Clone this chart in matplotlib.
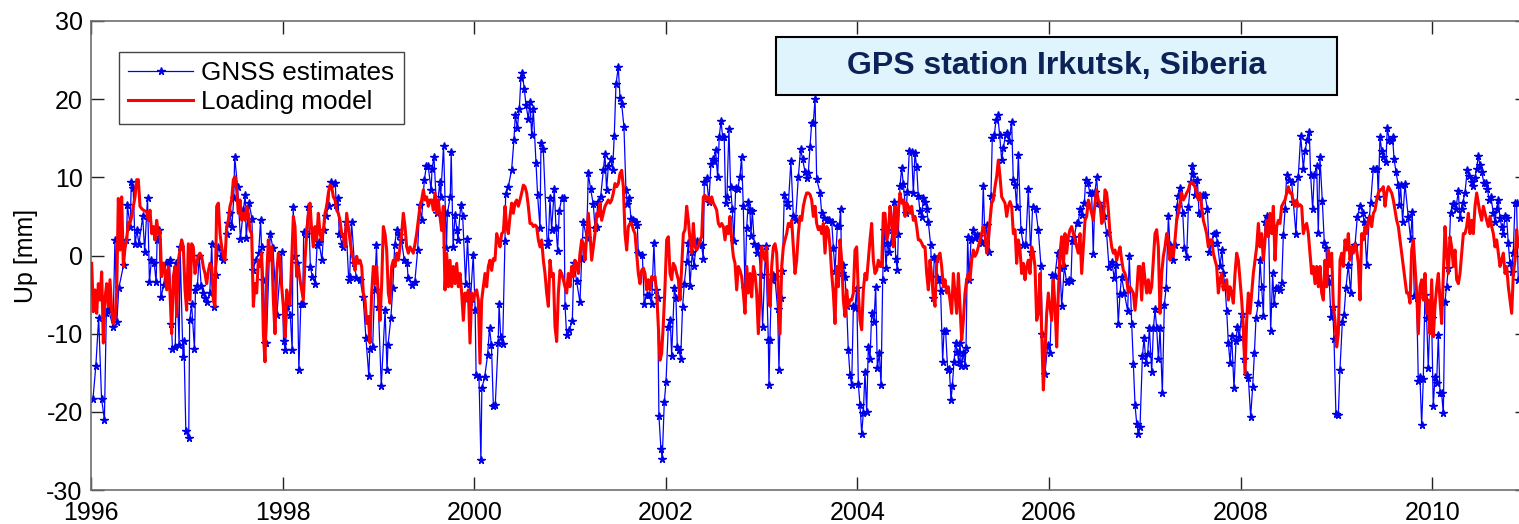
import numpy as np
import matplotlib
matplotlib.use("Agg")
import matplotlib.pyplot as plt
from matplotlib.patches import Rectangle

plt.rcParams['font.family'] = ['Liberation Sans', 'DejaVu Sans']
plt.rcParams['axes.unicode_minus'] = False

# ---------------- GNSS weekly estimates (decimal year, Up in mm) ----------------
gnss_t_a = [1996.02, 1996.05, 1996.08, 1996.11, 1996.14, 1996.16, 1996.18, 1996.23, 1996.25, 1996.27,
            1996.29, 1996.34, 1996.37, 1996.38, 1996.41, 1996.42, 1996.44, 1996.46, 1996.48, 1996.50,
            1996.54, 1996.56, 1996.59, 1996.61, 1996.63, 1996.66, 1996.68, 1996.69, 1996.71, 1996.73,
            1996.76, 1996.78, 1996.81, 1996.82, 1996.84, 1996.85, 1996.88, 1996.89, 1996.92, 1996.93,
            1996.96, 1996.97, 1996.99, 1997.02, 1997.03, 1997.05, 1997.08, 1997.09, 1997.11, 1997.13,
            1997.15, 1997.17, 1997.19, 1997.21, 1997.24, 1997.26, 1997.28, 1997.30, 1997.33, 1997.36,
            1997.38, 1997.42, 1997.43, 1997.45, 1997.47, 1997.49, 1997.50, 1997.53, 1997.56, 1997.59,
            1997.61, 1997.62, 1997.65, 1997.68, 1997.69, 1997.72, 1997.75, 1997.77, 1997.78, 1997.80,
            1997.82, 1997.83, 1997.87, 1997.90, 1997.94, 1997.99, 1998.01, 1998.03, 1998.05, 1998.08,
            1998.10, 1998.11, 1998.13, 1998.15, 1998.17, 1998.19, 1998.21, 1998.22, 1998.24, 1998.27,
            1998.29, 1998.31, 1998.34, 1998.36, 1998.38, 1998.41, 1998.43, 1998.45, 1998.48, 1998.49,
            1998.51, 1998.55, 1998.56, 1998.58, 1998.59, 1998.62, 1998.63, 1998.66, 1998.69, 1998.70,
            1998.72, 1998.75, 1998.77, 1998.81, 1998.84, 1998.87, 1998.90, 1998.91, 1998.94, 1998.96,
            1998.98, 1999.00, 1999.03, 1999.07, 1999.09, 1999.10, 1999.13, 1999.15, 1999.17, 1999.19,
            1999.21, 1999.24, 1999.27, 1999.30, 1999.31, 1999.35, 1999.38, 1999.41, 1999.43, 1999.45,
            1999.48, 1999.50, 1999.52, 1999.55, 1999.56, 1999.58, 1999.61, 1999.64, 1999.65, 1999.68,
            1999.71, 1999.72, 1999.75, 1999.76, 1999.78, 1999.80, 1999.82, 1999.83, 1999.86, 1999.88,
            1999.91, 1999.93, 1999.96, 1999.99, 2000.01, 2000.02, 2000.05, 2000.07, 2000.08, 2000.11,
            2000.14, 2000.16, 2000.18, 2000.20, 2000.22, 2000.25, 2000.26]
gnss_v_a = [-18.4, -14.2, -8.0, -18.3, -21.0, -7.4, -6.8, -9.1, 2.0, -8.5,
            -4.2, -1.2, 2.0, 6.4, 3.7, 9.4, 8.6, 1.5, 3.2, 1.5,
            5.0, 0.5, 7.4, -3.4, -0.6, -1.0, -3.4, 2.0, 3.2, -5.3,
            -3.8, -1.0, -1.0, -0.6, -8.7, -11.9, -11.7, -1.0, -11.5, 1.1,
            -13.0, -11.0, -22.5, -23.4, -8.3, -6.2, -12.0, -4.4, -3.9, -0.1,
            -3.9, -4.8, -5.5, -5.9, -4.8, 1.5, -6.6, -2.5, 1.1, -0.1,
            -0.6, 2.8, 4.1, 5.4, 3.7, 7.3, 12.6, 8.8, 2.1, 5.8,
            7.7, 2.2, 6.7, 4.7, -1.9, -0.6, 0.3, 4.5, 1.1, -3.1,
            -11.2, -11.2, 2.8, 0.9, -7.6, 0.5, -10.9, -12.1, -6.5, -7.6,
            -12.1, 6.2, -0.1, -1.0, -14.7, -6.2, -6.2, 3.0, 2.8, 6.2,
            -1.5, -2.7, -3.6, 1.3, 1.7, -0.6, 3.2, 5.0, 6.3, 8.8,
            9.4, 9.3, 6.4, 7.3, 2.8, 1.5, 1.1, 4.3, -3.1, -2.7,
            4.3, -1.0, -2.9, -3.1, -5.3, -10.6, -15.4, -11.9, -11.7, -4.4,
            1.3, -6.6, -16.7, -7.0, -14.7, -11.5, -8.0, -4.2, 1.3, 3.2,
            2.6, 2.0, -0.6, -1.0, -2.9, -3.8, -3.4, 0.7, 6.4, 4.5,
            9.7, 11.4, 11.4, 8.4, 11.1, 12.6, 5.4, 9.4, 7.5, 14.0,
            0.9, 5.4, 7.5, 13.2, 1.1, 5.2, 3.2, 2.0, 6.5, 5.0,
            -3.6, 2.1, -5.9, 0.1, -7.0, -15.3, -15.5, -26.2, -17.0, -15.5,
            -12.7, -9.3, -11.5, -19.3, -19.1, -11.2, -6.2]

gnss_t_b = [2000.276, 2000.297, 2000.321, 2000.328, 2000.356, 2000.391, 2000.415, 2000.429, 2000.450, 2000.471,
            2000.488, 2000.502, 2000.523, 2000.540, 2000.565, 2000.582, 2000.600, 2000.617, 2000.645, 2000.662,
            2000.687, 2000.697, 2000.721, 2000.763, 2000.774, 2000.791, 2000.808, 2000.836, 2000.854, 2000.871,
            2000.888, 2000.913, 2000.937, 2000.948, 2000.965, 2000.993, 2001.024, 2001.041, 2001.069, 2001.104,
            2001.121, 2001.139, 2001.174, 2001.191, 2001.215, 2001.243, 2001.261, 2001.278, 2001.288, 2001.320,
            2001.348, 2001.365, 2001.382, 2001.400, 2001.424, 2001.445, 2001.462, 2001.480, 2001.504, 2001.522,
            2001.539, 2001.563, 2001.584, 2001.598, 2001.619, 2001.636, 2001.661, 2001.685, 2001.703]
gnss_v_b = [-10.4, -11.3, 1.8, 7.9, 8.8, 11.0, 14.8, 18.0, 16.3, 18.8,
            22.7, 23.3, 21.3, 19.3, 17.5, 19.7, 15.4, 18.7, 11.8, 7.7,
            3.5, 14.4, 13.6, 1.3, 1.8, 7.3, 3.3, 8.5, 3.5, 0.6,
            5.7, 7.3, 7.4, -6.4, -10.2, -9.5, -8.4, -0.9, -3.3, -6.0,
            -0.5, 4.3, 2.2, 10.5, 8.5, 6.6, 3.5, 3.7, 6.9, 7.5,
            11.0, 13.0, 8.4, 11.4, 12.3, 11.0, 15.3, 21.9, 24.1, 20.2,
            19.4, 16.5, 8.4, 6.6, 7.4, 4.7, 4.5, 4.3, 3.9]

gnss_t_c = [2001.713, 2001.755, 2001.775, 2001.800, 2001.824, 2001.852, 2001.876, 2001.894, 2001.915, 2001.928,
            2001.949, 2001.963, 2001.984, 2002.002, 2002.026, 2002.047, 2002.061, 2002.089, 2002.106, 2002.120,
            2002.137, 2002.155, 2002.175, 2002.193, 2002.217, 2002.235, 2002.252, 2002.276, 2002.294, 2002.322,
            2002.346, 2002.374, 2002.391, 2002.402, 2002.426, 2002.450, 2002.471, 2002.489, 2002.503, 2002.520,
            2002.541, 2002.558, 2002.576, 2002.593, 2002.610, 2002.624, 2002.638, 2002.659, 2002.676, 2002.694,
            2002.711, 2002.729, 2002.750, 2002.774, 2002.791, 2002.809, 2002.826, 2002.844, 2002.861, 2002.878,
            2002.889, 2002.903, 2002.924, 2002.948, 2002.965, 2002.993, 2003.010, 2003.042, 2003.070, 2003.077,
            2003.087, 2003.104, 2003.122, 2003.139, 2003.167, 2003.181, 2003.198, 2003.216, 2003.237, 2003.261,
            2003.278, 2003.306, 2003.331, 2003.355, 2003.383, 2003.407]
gnss_v_c = [0.3, 0.1, -6.2, -5.0, -5.0, -6.2, 1.6, -4.4, -5.5, -20.5,
            -24.7, -26.0, -18.8, -16.2, -9.1, -8.3, -12.8, -4.2, -5.4, -11.7,
            -12.1, -13.2, -6.6, -3.6, -0.8, 1.6, -3.9, 0.4, -1.3, 1.8,
            1.5, 1.3, -0.4, 9.4, 9.9, 6.8, 11.7, 12.3, 12.1, 13.5,
            10.0, 15.2, 17.2, 15.2, 15.2, 6.7, 7.5, 16.2, 8.8, 5.9,
            1.8, 8.6, 8.5, 10.1, 12.6, 6.3, -4.2, 3.5, 6.8, 5.8,
            2.5, 5.7, 1.5, 0.3, 1.2, -2.5, -9.1, 1.2, -10.8, -16.6,
            -10.8, -3.1, -2.5, -2.8, -6.8, -14.6, -5.4, -2.0, 7.7, 6.9,
            6.3, 12.1, 5.1, 4.5, 10.0, 13.6]

gnss_t_d = [2003.429, 2003.453, 2003.471, 2003.488, 2003.505, 2003.523, 2003.540, 2003.558, 2003.575, 2003.610,
            2003.627, 2003.652, 2003.679, 2003.707, 2003.732, 2003.749, 2003.766, 2003.791, 2003.812, 2003.825,
            2003.836, 2003.853, 2003.871, 2003.888, 2003.905, 2003.923, 2003.940, 2003.958, 2003.975, 2003.992,
            2004.010, 2004.027, 2004.045, 2004.062, 2004.079, 2004.097, 2004.114, 2004.132, 2004.149, 2004.173,
            2004.191, 2004.208, 2004.229, 2004.247, 2004.264, 2004.278, 2004.299, 2004.313, 2004.333, 2004.347,
            2004.365, 2004.382, 2004.400, 2004.417, 2004.427, 2004.445, 2004.462, 2004.479, 2004.507, 2004.521,
            2004.542, 2004.566, 2004.584, 2004.601, 2004.619, 2004.636, 2004.653, 2004.671, 2004.688, 2004.706,
            2004.723, 2004.740, 2004.765, 2004.786, 2004.803, 2004.820, 2004.834, 2004.855, 2004.869, 2004.890,
            2004.904, 2004.921, 2004.942, 2004.960, 2004.977, 2004.991, 2005.008, 2005.026, 2005.043, 2005.057,
            2005.071, 2005.085, 2005.106, 2005.123, 2005.134]
gnss_v_d = [12.3, 10.7, 9.9, 10.6, 13.9, 17.0, 17.0, 20.0, 9.8, 8.0,
            5.4, 4.8, 4.6, 4.5, 4.3, 1.0, -2.0, 3.8, 3.8, 6.0,
            -2.3, -1.2, -2.7, -6.5, -12.1, -15.3, -16.6, -6.5, -6.7, -4.2,
            -16.5, -19.1, -22.8, -20.1, -14.9, -20.0, -11.7, -13.2, -7.4, -8.5,
            -4.0, -14.4, -12.5, -16.6, -3.1, 3.3, -1.6, 1.6, 0.5, 1.6,
            3.3, 6.8, -0.4, -1.8, 2.8, 8.9, 11.2, 9.2, 5.4, 8.1,
            13.4, 13.3, 8.0, 13.1, 11.3, 7.6, 5.7, 4.9, 7.4, 6.9,
            6.0, 4.3, 1.3, -5.5, -0.2, -0.4, -2.7, -3.1, -4.6, -13.6,
            -9.6, -9.7, -14.6, -14.5, -18.5, -16.7, -13.6, -11.2, -12.3, -13.6,
            -11.2, -14.2, -12.5, -14.1, -11.8]

gnss_t_e = [2005.151, 2005.165, 2005.186, 2005.210, 2005.227, 2005.252, 2005.269, 2005.297, 2005.314, 2005.332,
            2005.349, 2005.373, 2005.394, 2005.408, 2005.429, 2005.447, 2005.464, 2005.485, 2005.506, 2005.523,
            2005.547, 2005.565, 2005.582, 2005.610, 2005.627, 2005.645, 2005.662, 2005.680, 2005.707, 2005.732,
            2005.756, 2005.784, 2005.808, 2005.829, 2005.861, 2005.888, 2005.916, 2005.930, 2005.958, 2005.986,
            2006.010, 2006.035, 2006.062, 2006.090, 2006.115, 2006.132, 2006.160, 2006.184, 2006.208, 2006.229,
            2006.243, 2006.264, 2006.288, 2006.306, 2006.323, 2006.341, 2006.369, 2006.382, 2006.403, 2006.428,
            2006.445, 2006.462, 2006.480, 2006.497, 2006.515, 2006.543, 2006.577, 2006.601, 2006.626, 2006.654,
            2006.682, 2006.699, 2006.723, 2006.741, 2006.758, 2006.786, 2006.821, 2006.838]
gnss_v_e = [2.4, -3.1, 2.0, 3.3, 2.2, 2.6, 2.5, 1.6, 8.9, 1.8,
            3.9, 0.4, 7.6, 15.0, 15.4, 17.3, 18.0, 15.4, 12.2, 13.8,
            15.4, 15.7, 14.6, 17.1, 9.7, 9.0, 6.2, 12.9, 3.3, 1.3,
            1.3, 8.5, 0.4, 6.2, 5.9, 3.3, -1.3, -10.0, -15.1, -11.5,
            -12.5, -2.5, -2.6, 0.3, -1.6, -6.5, -1.4, -3.4, -3.1, -3.2,
            1.8, 2.4, 4.1, 4.2, 5.9, 5.2, 6.7, 9.6, 9.3, 8.0,
            8.0, 0.2, 8.1, 10.0, 6.7, 6.2, 5.0, 2.9, -1.5, -0.8,
            -2.9, -1.2, -8.7, -4.9, -2.7, -4.8, -7.1, -0.1]

gnss_t_f = [2006.863, 2006.881, 2006.898, 2006.916, 2006.933, 2006.950, 2006.975, 2006.992, 2007.013, 2007.030,
            2007.048, 2007.072, 2007.090, 2007.107, 2007.124, 2007.142, 2007.159, 2007.183, 2007.204, 2007.222,
            2007.246, 2007.263, 2007.291, 2007.316, 2007.333, 2007.350, 2007.368, 2007.396, 2007.413, 2007.437,
            2007.455, 2007.479, 2007.493, 2007.507, 2007.524, 2007.549, 2007.566, 2007.584, 2007.604, 2007.629,
            2007.653, 2007.674, 2007.699, 2007.723, 2007.744, 2007.758, 2007.785, 2007.806, 2007.820, 2007.838,
            2007.855, 2007.872, 2007.890, 2007.907, 2007.931, 2007.952, 2007.966, 2007.987, 2008.011, 2008.036,
            2008.064, 2008.081, 2008.105, 2008.126, 2008.144, 2008.161, 2008.185, 2008.203, 2008.220, 2008.238,
            2008.255, 2008.272, 2008.290, 2008.314, 2008.335, 2008.349, 2008.370, 2008.394, 2008.411, 2008.429,
            2008.446, 2008.464]
gnss_v_f = [-8.7, -13.9, -19.1, -21.6, -22.8, -21.9, -12.9, -10.6, -13.8, -12.6,
            -9.3, -14.9, -9.3, -6.9, -9.3, -13.3, -9.3, -17.6, -6.3, -4.2,
            5.0, 1.3, -0.6, 1.4, 6.2, 7.6, 8.6, 5.5, 1.0, -0.2,
            6.2, 9.4, 11.4, 10.4, 7.8, 9.7, 5.4, 5.3, 7.8, 7.7,
            6.0, 0.4, 1.6, 2.8, 2.9, 1.6, -1.3, 0.7, -2.3, -4.0,
            -7.1, -11.2, -13.7, -10.3, -17.0, -11.0, -9.1, -10.4, -7.5, -13.3,
            -15.3, -15.7, -20.6, -16.8, -12.5, -8.0, -6.1, -0.6, -4.0, -7.7,
            4.3, 5.0, 4.8, -9.6, -2.3, -6.2, -4.2, -4.2, -4.4, -3.5,
            2.6, 5.9]

gnss_t_g = [2008.481, 2008.508, 2008.533, 2008.550, 2008.578, 2008.602, 2008.627, 2008.655, 2008.672, 2008.696,
            2008.717, 2008.731, 2008.752, 2008.769, 2008.794, 2008.811, 2008.828, 2008.853, 2008.874, 2008.891,
            2008.905, 2008.926, 2008.943, 2008.961, 2008.975, 2008.995, 2009.020, 2009.037, 2009.062, 2009.079,
            2009.100, 2009.124, 2009.149, 2009.169, 2009.194, 2009.218, 2009.246, 2009.274, 2009.291, 2009.316,
            2009.343, 2009.357, 2009.385, 2009.409, 2009.427, 2009.437, 2009.455, 2009.472, 2009.490, 2009.517,
            2009.531, 2009.552, 2009.570, 2009.587, 2009.601, 2009.622, 2009.646, 2009.657, 2009.670, 2009.691,
            2009.716, 2009.750, 2009.775, 2009.792, 2009.813, 2009.838, 2009.855, 2009.872, 2009.890, 2009.907,
            2009.924, 2009.942, 2009.959, 2009.977, 2009.994, 2010.011, 2010.029, 2010.046, 2010.064, 2010.081,
            2010.098, 2010.116, 2010.133, 2010.150, 2010.168, 2010.192, 2010.213, 2010.227, 2010.248, 2010.272,
            2010.290, 2010.307, 2010.318, 2010.342, 2010.366, 2010.387, 2010.411, 2010.429, 2010.446, 2010.463,
            2010.481, 2010.498, 2010.516, 2010.540, 2010.561, 2010.575, 2010.596, 2010.613, 2010.638, 2010.655,
            2010.672, 2010.690, 2010.707, 2010.725, 2010.742, 2010.759, 2010.777, 2010.794, 2010.811, 2010.829,
            2010.846, 2010.864, 2010.881, 2010.898]
gnss_v_g = [10.3, 9.7, 9.4, 6.9, 2.7, 10.1, 15.3, 11.1, 13.4, 14.8,
            15.8, 10.3, 5.9, 10.3, 11.4, 2.9, 12.6, 7.0, 1.6, 0.9,
            -2.6, -3.4, -7.9, -6.6, -10.7, -20.3, -20.4, -14.6, -8.5, -7.6,
            -4.1, -1.2, -4.8, 1.1, 1.3, 4.9, 6.3, 5.5, 4.3, -1.2,
            4.8, 6.7, 11.1, 11.1, 11.1, 7.5, 15.2, 13.4, 12.6, 11.9,
            16.3, 14.8, 14.6, 15.2, 12.4, 10.7, 9.0, 6.5, 9.0, 4.3,
            9.2, 4.9, 2.1, 5.6, -5.2, -5.5, -16.1, -15.5, -21.7, -15.8,
            -5.1, -8.0, -14.4, -7.6, -8.0, -19.3, -15.5, -16.3, -10.2, -17.6,
            -17.6, -20.2, -5.9, -4.0, -1.6, 5.4, 6.6, 6.6, 6.0, 8.2,
            4.8, 5.9, 6.7, 8.0, 10.9, 10.2, 9.4, 8.9, 9.9, 11.1,
            12.7, 11.6, 10.7, 9.3, 9.3, 8.5, 7.1, 7.5, 5.4, 4.3,
            6.0, 7.1, 4.8, 3.7, 2.8, 5.0, 4.8, 1.6, -1.0, -2.1,
            0.3, 6.7, 6.7, -3.1]

# ---------------- Loading model (regularly sampled series, Up in mm) ----------------
loading_start = 1996.007      # first sample (decimal year)
loading_step = 0.0173974      # sampling interval (years)

loading_a = [-1.0, -7.2, -4.4, -7.4, -3.6, -5.7, -2.1, -11.2, -5.5, -3.6,
             -6.5, -3.1, -7.0, -8.7, -8.0, -4.8, 7.3, 0.7, 7.5, -1.4,
             1.0, 2.0, 4.3, 4.1, 5.0, 6.3, 7.5, 9.7, 9.7, 6.3,
             6.0, 5.8, 5.7, 5.6, 4.5, 5.8, 2.8, 3.7, 2.0, 4.5,
             2.8, 3.2, -2.7, -1.0, -1.9, -4.4, -1.4, -4.8, -10.0, -2.7,
             -1.4, -7.8, -0.6, 0.7, 2.0, 1.1, -4.4, -7.0, 1.5, -5.7,
             1.5, 1.1, -2.3, -1.0, 0.0, 0.3, -0.1, -1.5, -2.3, -3.6,
             -2.0, -1.0, -1.4, -5.7, -6.5, 6.3, 6.7, 2.8, 1.1, -0.1,
             -0.6, 3.7, 4.5, 6.3, 7.1, 9.7, 10.1, 8.4, 5.4, 7.1,
             4.5, 5.4, 4.5, 6.3, 5.4, 3.2, 2.8, -6.5, -3.6, -4.8,
             -0.6, -1.4, 0.3, -10.0, -13.6, -2.7, 2.0, -0.6, 1.1, -5.7,
             -10.0, -2.3, 0.3, -0.6, -4.0, -6.5, -10.4, -4.4, -5.7, -6.3,
             -0.6, 5.0, 3.7, -2.7, -1.4, -3.1, -4.4, -5.7, -0.6, 2.8,
             5.4, 6.7, 3.2, 1.1, 3.7, 2.0, 5.4, 2.8, 2.0, 3.2,
             5.4, 6.3, 8.0, 9.0, 8.8, 7.5, 7.1, 5.8, 5.4, 4.5,
             2.8, 2.4, 1.1, 5.4, 3.7, 2.0, 0.3, -0.6, -1.9, -0.1,
             -1.0, -0.6, -1.4, -4.8, -5.7, -8.7, -7.8, -11.2, -4.8, -1.4,
             -3.6, -1.4, -5.3, -8.3, -3.6, 3.7, 2.8, 0.7, -4.8, -6.1,
             -1.4, -0.6, -1.4, 0.3, -0.6, 1.1, 2.8, 5.4, 3.7, 1.1,
             0.3, 1.1, 0.7, 0.3, 1.5, 2.8, 4.5, 6.3, 7.1, 8.4,
             7.1, 7.5, 6.3, 7.1, 7.1, 5.8, 8.0, 5.4, 7.1, 5.0,
             3.2, 6.3, -4.4, 0.3, -4.0, -0.6, -4.0, -1.4, -3.6, -1.0,
             -4.0, -2.3, -4.8, -8.3, -4.8, -5.7, -4.4, -11.2, -4.8, -5.7,
             -4.8, -4.4, -5.7, -13.8, -5.7, -4.0, -2.3, -4.0, -1.4, -0.6,
             -1.9, -0.4, -0.6, 2.8, 2.0]
loading_b = [1.1, 2.8, 3.0, 6.3, 3.7, 2.8, 5.0, 6.7, 5.4, 6.7,
             7.1, 6.3, 7.1, 8.0, 9.0, 8.8, 8.0, 6.3, 4.1, 4.1,
             3.7, 3.9, 3.7, 2.0, 1.1, 2.0, -0.6, -2.3, -4.8, -6.5,
             -0.6, -2.7, -2.3, -9.1, -11.0, -4.8, -1.9, -2.3, -3.1, -4.0,
             -4.8, -2.3, -4.0, -1.4, -2.7, -0.6, -1.4, -2.3, 0.3, 2.0,
             1.5, -0.6, 2.4, 5.4, 2.8, -0.6, 1.1, 2.8, 5.4, 5.0,
             6.7, 4.5, 5.4, 6.3, 6.7, 7.1, 6.7, 7.1, 8.0, 9.2,
             8.8, 9.2, 10.5, 10.9, 8.8, 2.8, 0.7, 3.7, 4.1, 4.1,
             3.3, 2.8, 0.3, -2.3, -3.6]
loading_c = [-1.9, -1.6, -2.3, -4.4, -3.1, -4.4, -2.7, -3.1, -2.7, -4.8,
             -9.1, -13.4, -12.5, -8.7, -4.0, 2.0, 2.4, -2.3, -3.1, -1.0,
             -1.4, -2.3, -3.1, -5.7, -1.4, 2.8, 3.3, 6.3, 4.5, 2.0,
             0.3, 4.1, 1.1, 0.7, 1.1, 2.0, 2.4, 7.5, 7.7, 7.1,
             7.5, 6.7, 7.5, 6.7, 6.3, 5.8, 4.1, 3.7, 4.1, 3.7,
             2.0, 3.7, 2.8, 5.0, 2.0, -0.1, -1.0, -4.4, -1.4, -1.9,
             -2.7, -4.8, -7.4, -1.4, -4.8, -2.3, -5.3, -1.4, -2.3, -4.8,
             -10.0, -4.8, 1.1, 0.3, -0.6, 1.1, -4.8, -6.5, -1.4, 1.1,
             1.5, 0.3, -4.8, -10.0, -1.4, 1.1, 2.0, 2.8, 4.1, 3.7,
             4.5, 1.1, -2.3, -0.6, 2.8, 5.0, 4.5, 6.3, 7.3]
loading_d = [8.0, 8.0, 7.8, 7.1, 5.0, 6.3, 4.1, 3.3, 3.7, 2.8,
             4.1, 0.3, 3.7, 3.3, 1.1, -2.3, -4.8, -8.7, -1.4, -4.0,
             2.0, -0.6, -5.7, -7.8, -4.4, -6.5, -5.7, -5.7, -4.8, 0.7,
             1.1, -4.8, -8.3, -9.5, -4.4, -2.3, -3.1, -0.6, 2.0, 4.1,
             -0.6, -2.3, -1.9, -0.6, -1.4, -1.4, 5.4, 5.4, 2.0, 2.8,
             6.3, 4.5, 1.1, 6.3, 2.8, 5.8, 8.0, 6.7, 7.1, 5.0,
             6.7, 6.3, 5.4, 6.3, 4.5, 5.0, 3.7, 2.0, 2.0, 1.6,
             1.1, 1.1, -2.3, -4.4, -0.6, -2.7, -5.3, -6.5, -1.0, -0.1,
             0.3, -1.4, -4.0, -3.1, -4.8, -4.0, -5.7, -7.4, -2.3, -4.8,
             -7.4, -2.3, -6.5, -10.8, -8.3, -4.8, -3.1, -2.3]
loading_e = [-3.1, -0.6, 0.7, -0.1, 0.3, 1.1, 2.0, 2.8, 3.7, 2.8,
             0.3, 2.0, 4.5, 6.7, 7.1, 8.8, 10.1, 12.2, 10.1, 7.5,
             7.1, 6.7, 5.0, 6.3, 6.9, 6.3, 2.8, 3.3, -1.0, 2.0,
             0.7, -2.3, -1.0, -3.1, -1.4, -0.6, -2.3, 1.1, 0.3, -1.4,
             -8.3, -7.4, -2.3, -10.0, -17.2, -12.5, -7.4, -4.8, -6.5, -8.3,
             -3.1, -6.5, -11.7, -4.8, 0.3, 2.4, -1.4, 2.8, 0.3, 2.4,
             3.3, 3.7, 2.8, 2.0, 1.1, 0.3, 2.8, -2.3, 1.1, 4.5,
             5.0, 7.1, 6.3, 5.4, 4.5, 6.7, 8.4, 7.1, 6.7, 4.1,
             4.5, 8.4, 8.0, 5.8, 2.8, 1.1, 0.3, 0.7, -0.6, 0.3,
             1.1, -0.6, -1.9, -2.3, -3.1, -4.8, -4.0, -4.4, -4.8, -7.0]
loading_f = [-4.8, -1.4, -1.4, -5.7, -1.0, -3.1, -4.8, -3.1, -4.8, -4.0,
             -0.6, 2.8, 3.3, 1.1, -7.4, -2.3, -0.1, 1.1, 2.8, 2.0,
             -0.6, 1.1, -0.1, 2.0, 4.5, 5.4, 6.7, 8.0, 7.1, 7.5,
             8.0, 8.4, 9.2, 9.4, 9.2, 8.8, 8.0, 7.1, 8.0, 6.3,
             4.5, 3.7, 2.8, 1.1, 2.0, 2.0, 0.3, -0.6, -1.4, -4.8,
             -3.1, -2.3, -4.4, -4.0, -3.1, -5.7, -4.0, -4.8, -6.1, -2.3,
             0.3, -0.6, -3.1, -5.7, -9.1, -15.1, -8.3, -4.8, -7.4, -4.8,
             -2.3, -0.6, 1.1, 4.1, 1.1, 2.8, -0.6, 2.0, 4.5, 2.4,
             5.4, 2.8, 6.3, -0.6, 3.7, 4.5, 4.1, 6.3, 6.7, 7.1,
             8.0, 8.8, 8.0, 8.0, 6.7, 6.3, 7.1, 6.3]
loading_g = [6.5, 6.3, 2.8, 3.7, 4.1, 2.8, 0.3, -2.3, -1.4, -3.6,
             -1.4, -4.0, -1.4, -4.8, -5.7, -0.6, -4.0, 0.7, -1.4, 0.3,
             -6.5, -8.3, -11.7, -10.0, -0.6, 0.3, -1.4, 2.0, 0.7, 2.8,
             -0.6, 1.1, 0.3, 1.5, 0.7, -1.0, -5.7, 2.8, 2.0, 3.7,
             2.8, 4.5, 5.0, 3.7, 5.4, 5.8, 7.1, 8.0, 8.4, 8.4,
             8.8, 6.3, 8.0, 8.8, 8.4, 8.0, 7.1, 5.8, 4.5, 3.7,
             2.0, 0.3, -1.4, -3.1, -4.8, -4.8, -6.1, 0.7, 2.0, -1.4,
             -4.8, -10.0, -4.0, -3.1, -5.7, -2.3, -7.4, -5.7, -10.0, -3.1,
             -10.4, -6.5, -4.0, -2.3, -5.7, -8.7, -2.3, 3.7, 0.3, -2.3,
             2.4, 1.1, -1.4, 0.7, -3.1, -3.6, -2.3, 0.3, 2.8, 2.8,
             3.7, 5.4, 2.8, 4.5, 2.8, 6.3, 8.0, 6.7, 5.4, 4.5,
             6.3, 5.4, 4.5, 3.7, 5.0, 3.7, 2.8, 1.1, 2.0, 0.3,
             -1.4, -0.6, 0.3, -2.3, -1.4, -4.0, -5.7, -7.4, -2.3, -0.6,
             3.3, 1.1]

year_ticks = [1996, 1998, 2000, 2002, 2004, 2006, 2008, 2010]
up_ticks = [-30, -20, -10, 0, 10, 20, 30]
title_text = "GPS station Irkutsk, Siberia"

# ---------------- assemble ----------------
gnss_t = np.array(gnss_t_a + gnss_t_b + gnss_t_c + gnss_t_d + gnss_t_e + gnss_t_f + gnss_t_g)
gnss_v = np.array(gnss_v_a + gnss_v_b + gnss_v_c + gnss_v_d + gnss_v_e + gnss_v_f + gnss_v_g)
assert len(gnss_t) == len(gnss_v), (len(gnss_t), len(gnss_v))
loading_v = np.array(loading_a + loading_b + loading_c + loading_d + loading_e + loading_f + loading_g)
loading_t = loading_start + loading_step * np.arange(len(loading_v))

# ---------------- figure ----------------
W, H = 1519, 524
fig = plt.figure(figsize=(W / 100, H / 100), dpi=100)
ax_left, ax_right, ax_top, ax_bottom = 91, 1528, 21, 490
ax = fig.add_axes([ax_left / W, 1 - ax_bottom / H, (ax_right - ax_left) / W, (ax_bottom - ax_top) / H])

ax.plot(gnss_t, gnss_v, color='#0000ff', lw=0.9, marker='*', ms=5.5, mew=1.0,
        mec='#0000e6', mfc='#0000e6', label='GNSS estimates', zorder=2)
ax.plot(loading_t, loading_v, color='#ff0000', lw=2.2, label='Loading model', zorder=3)

ax.set_xlim(1996, 2011)
ax.set_ylim(-30, 30)
ax.set_xticks(year_ticks)
ax.set_yticks(up_ticks)
ax.set_xticklabels([str(y) for y in year_ticks])
ax.set_yticklabels([str(v) for v in up_ticks])
ax.tick_params(direction='in', length=9.5, width=1.0, color='#222222',
               top=True, right=True, labelsize=18, pad=6)
ax.tick_params(axis='x', pad=8)
for s in ax.spines.values():
    s.set_color('#6e6e6e')
    s.set_linewidth(1.2)
ax.set_ylabel('Up [mm]', fontsize=18, labelpad=6)

leg = ax.legend(loc='upper left',
                bbox_to_anchor=((119 - ax_left) / (ax_right - ax_left), (ax_bottom - 52) / (ax_bottom - ax_top)),
                borderaxespad=0, fancybox=False, framealpha=1, edgecolor='#444444',
                fontsize=18.8, handlelength=2.5, handletextpad=0.3, borderpad=0.35,
                labelspacing=0.2)
leg.get_frame().set_linewidth(1.0)

# title box
bx0, bx1, by0, by1 = 776, 1337, 37, 95
fig.patches.append(Rectangle((bx0 / W, 1 - by1 / H), (bx1 - bx0) / W, (by1 - by0) / H,
                             transform=fig.transFigure, facecolor='#dff4fd',
                             edgecolor='black', linewidth=1.5, zorder=5))
fig.text((bx0 + bx1) / 2 / W, 1 - (by0 + by1) / 2 / H, title_text, ha='center', va='center',
         fontsize=23, fontweight='bold', color='#0c2357', zorder=6)

fig.savefig('out.png', dpi=100)
